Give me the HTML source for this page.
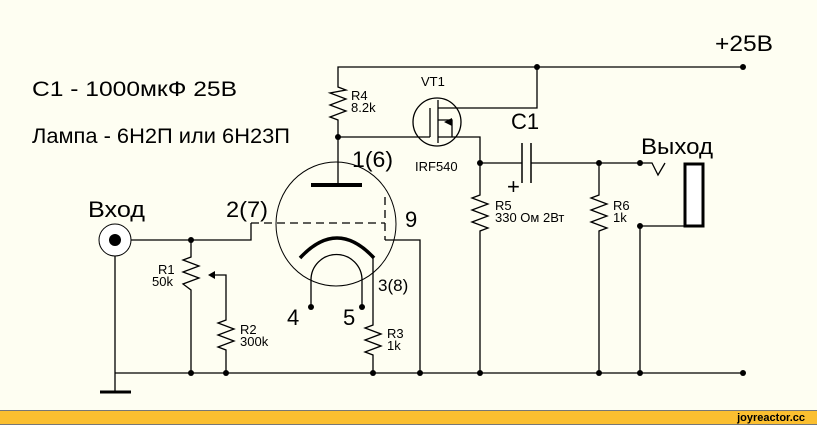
<!DOCTYPE html>
<html><head><meta charset="utf-8"><style>
html,body{margin:0;padding:0;background:#fefef2;}
svg{display:block}
text{font-family:"Liberation Sans",sans-serif;fill:#000}
</style></head><body>
<svg width="817" height="425" viewBox="0 0 817 425" xmlns="http://www.w3.org/2000/svg">
<rect width="817" height="425" fill="#fefef2"/>
<g stroke="#000" stroke-width="1.3" fill="none">
<polyline points="338,137 338,120 330,117 346,111 330,105 346,99 330,93 346,90 338,87 338,67 743,67"/>
<circle cx="437" cy="122" r="24"/>
<line x1="338" y1="137" x2="430" y2="137"/>
<line x1="430" y1="108" x2="430" y2="137"/>
<line x1="438" y1="100" x2="438" y2="143"/>
<polyline points="438,108 537,108 537,67"/>
<polyline points="438,120 452,120 452,137"/>
<polyline points="438,137 480,137 480,195 472,198 488,204 472,210 488,216 472,222 488,228 480,231 480,373"/>
<line x1="338" y1="137" x2="338" y2="185"/>
<ellipse cx="336" cy="224" rx="60" ry="62" stroke-width="1"/>
<line x1="251" y1="223" x2="385" y2="223" stroke-dasharray="8,5"/>
<line x1="385" y1="197" x2="385" y2="240" stroke-dasharray="8,5"/>
<polyline points="115,240 251,240 251,223"/>
<polyline points="385,240 420,240 420,373"/>
<polyline points="373,258 373,325 365,328 381,334 365,340 381,346 365,352 373,355 373,373"/>
<path d="M311,307 L311,280 A25,25 0 0 1 362,280 L362,307"/>
<line x1="115" y1="373" x2="743" y2="373"/>
<line x1="115" y1="256" x2="115" y2="392"/>
<polyline points="191,240 191,257 183,260 199,266 183,272 199,278 183,284 191,290 191,373"/>
<polyline points="210,275 226,275 226,320 218,323 234,329 218,335 234,341 218,347 226,350 226,373"/>
<line x1="480" y1="163" x2="522" y2="163"/>
<line x1="531" y1="163" x2="640" y2="163"/>
<polyline points="599,163 599,195 591,198 607,204 591,210 607,216 591,222 607,228 599,231 599,373"/>
<polyline points="640,163 652,163 658,175 665,163"/>
<polyline points="640,373 640,226 684,226"/>
</g>
<g stroke="#000" fill="none">
<line x1="311" y1="185" x2="362" y2="185" stroke-width="4"/>
<path d="M300,258 Q337,218 374,258" stroke-width="3.5"/>
<line x1="522" y1="143" x2="522" y2="183" stroke-width="1.5"/>
<line x1="531" y1="143" x2="531" y2="183" stroke-width="1.5"/>
<line x1="100" y1="392" x2="131" y2="392" stroke-width="3"/>
<rect x="685" y="164" width="18" height="62" stroke-width="3" fill="#fff"/>
<circle cx="115" cy="240" r="16" stroke-width="1" fill="#fff"/>
</g>
<circle cx="115" cy="240" r="6"/>
<polygon points="208,275 215,271 215,279"/>
<polygon points="444,122 452,118 452,126"/>
<g fill="#000">
<circle cx="537" cy="67" r="3"/><circle cx="743" cy="67" r="3"/>
<circle cx="338" cy="137" r="3"/><circle cx="480" cy="163" r="3"/>
<circle cx="599" cy="163" r="3"/><circle cx="640" cy="163" r="3"/>
<circle cx="640" cy="226" r="3"/><circle cx="191" cy="240" r="3"/>
<circle cx="311" cy="307" r="3"/><circle cx="362" cy="307" r="3"/>
<circle cx="191" cy="373" r="3"/><circle cx="226" cy="373" r="3"/>
<circle cx="373" cy="373" r="3"/><circle cx="420" cy="373" r="3"/>
<circle cx="480" cy="373" r="3"/><circle cx="599" cy="373" r="3"/>
<circle cx="640" cy="373" r="3"/><circle cx="743" cy="373" r="3"/>
</g>
<text x="32" y="96" font-size="21" textLength="205" lengthAdjust="spacingAndGlyphs">С1 - 1000мкФ 25В</text>
<text x="32" y="143" font-size="21" textLength="258" lengthAdjust="spacingAndGlyphs">Лампа - 6Н2П или 6Н23П</text>
<text x="715" y="51" font-size="22" textLength="58" lengthAdjust="spacingAndGlyphs">+25В</text>
<text x="88" y="217" font-size="22" textLength="57" lengthAdjust="spacingAndGlyphs">Вход</text>
<text x="641" y="154" font-size="22" textLength="72" lengthAdjust="spacingAndGlyphs">Выход</text>
<text x="352" y="167" font-size="22" textLength="41" lengthAdjust="spacingAndGlyphs">1(6)</text>
<text x="226" y="217" font-size="22" textLength="42" lengthAdjust="spacingAndGlyphs">2(7)</text>
<text x="405" y="227" font-size="22">9</text>
<text x="378" y="291" font-size="17">3(8)</text>
<text x="287" y="325" font-size="22">4</text>
<text x="343" y="325" font-size="22">5</text>
<text x="507" y="194" font-size="22">+</text>
<text x="511" y="129" font-size="22">С1</text>
<text x="421" y="86" font-size="13">VT1</text>
<text x="415" y="171" font-size="13">IRF540</text>
<g font-size="13">
<text x="351" y="100">R4</text><text x="351" y="112">8.2k</text>
<text x="495" y="210">R5</text><text x="495" y="222">330 Ом 2Вт</text>
<text x="613" y="210">R6</text><text x="613" y="222">1k</text>
<text x="158" y="274">R1</text><text x="152" y="286">50k</text>
<text x="240" y="334">R2</text><text x="240" y="346">300k</text>
<text x="387" y="338">R3</text><text x="387" y="350">1k</text>
</g>
<rect x="0" y="410" width="817" height="15" fill="#fbbf30"/>
<line x1="0" y1="410.5" x2="817" y2="410.5" stroke="#777"/>
<line x1="0" y1="424.5" x2="817" y2="424.5" stroke="#777"/>
<text x="805" y="421" font-size="11" font-weight="bold" text-anchor="end">joyreactor.cc</text>
</svg>
</body></html>
